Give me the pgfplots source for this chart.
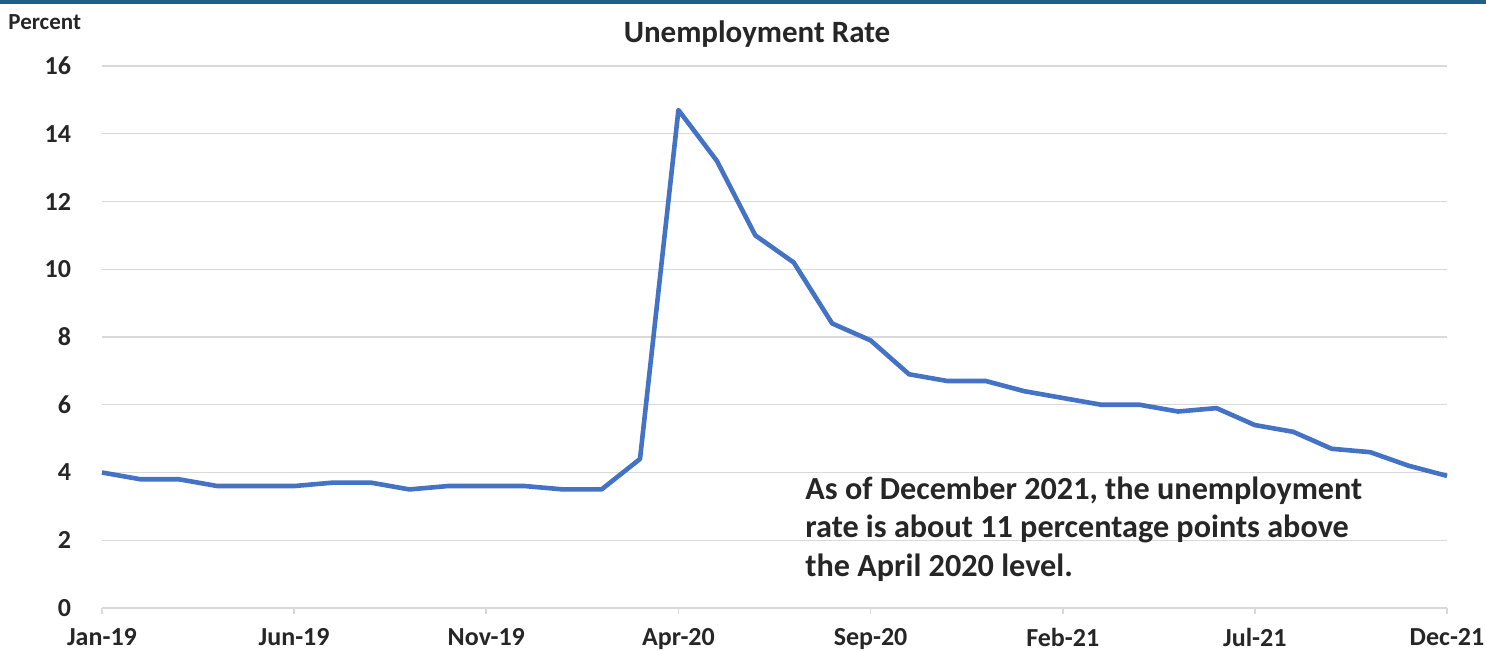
\documentclass[border=0pt]{standalone}
\usepackage{fontspec}
\setmainfont{Carlito}
\usepackage{pgfplots}
\pgfplotsset{compat=1.18}
\definecolor{linecol}{HTML}{4472C4}
\definecolor{topbar}{HTML}{1F5F8B}
\definecolor{gridc}{HTML}{D9D9D9}
\definecolor{txt}{HTML}{262626}
\begin{document}
\begin{tikzpicture}[x=1pt,y=1pt]
\path[use as bounding box] (0,0) rectangle (743,325.5);
\fill[topbar] (0,323.3) rectangle (743,325.5);
\begin{axis}[
  at={(51pt,21.5pt)}, anchor=south west,
  scale only axis, width=672.5pt, height=271pt,
  xmin=0, xmax=35, ymin=0, ymax=16,
  ytick={0,2,...,16},
  xtick={0,5,...,35},
  xticklabels={Jan-19,Jun-19,Nov-19,Apr-20,Sep-20,Feb-21,Jul-21,Dec-21},
  axis x line=bottom, axis y line=left,
  x axis line style={gridc, line width=0.8pt, -},
  y axis line style={draw=none},
  ymajorgrids, major grid style={gridc, line width=0.6pt},
  major tick length=3pt,
  xtick style={gridc, line width=0.8pt},
  ytick style={draw=none},
  tick align=outside,
  /pgf/number format/assume math mode=true,
  ticklabel style={font=\fontsize{13}{15}\selectfont\bfseries, text=txt},
  xticklabel style={yshift=-3.5pt},
  yticklabel style={xshift=-9pt},
  clip=false,
]
\addplot[linecol, line width=2.3pt, line join=round] coordinates {
(0,4.0) (1,3.8) (2,3.8) (3,3.6) (4,3.6) (5,3.6) (6,3.7) (7,3.7) (8,3.5) (9,3.6)
(10,3.6) (11,3.6) (12,3.5) (13,3.5) (14,4.4) (15,14.7) (16,13.2) (17,11.0) (18,10.2) (19,8.4)
(20,7.9) (21,6.9) (22,6.7) (23,6.7) (24,6.4) (25,6.2) (26,6.0) (27,6.0) (28,5.8) (29,5.9)
(30,5.4) (31,5.2) (32,4.7) (33,4.6) (34,4.2) (35,3.9)};
\end{axis}
\node[anchor=center, font=\fontsize{15.5}{17}\selectfont\bfseries, text=txt, inner sep=0] at (378.5,308.5) {Unemployment Rate};
\node[anchor=west, font=\fontsize{11.5}{13}\selectfont\bfseries, text=txt, inner sep=0] at (4,314.5) {Percent};
\node[anchor=base west, font=\fontsize{16.1}{19}\selectfont\bfseries, text=txt, inner sep=0] at (402.5,75.5) {As of December 2021, the unemployment};
\node[anchor=base west, font=\fontsize{16.1}{19}\selectfont\bfseries, text=txt, inner sep=0] at (402.5,56.5) {rate is about 11 percentage points above};
\node[anchor=base west, font=\fontsize{16.1}{19}\selectfont\bfseries, text=txt, inner sep=0] at (402.5,37) {the April 2020 level.};
\end{tikzpicture}
\end{document}
